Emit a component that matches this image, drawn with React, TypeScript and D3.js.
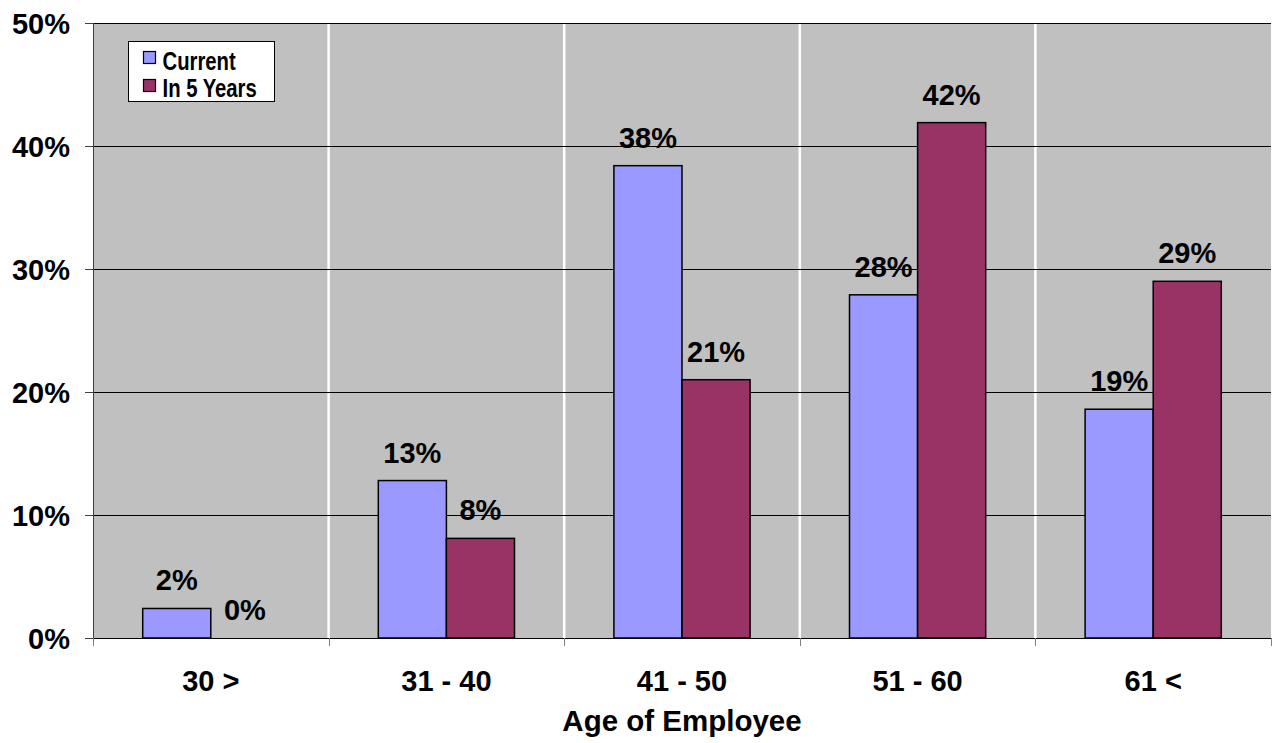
import React from "react";
import * as d3 from "d3";

const categories = ["30 >", "31 - 40", "41 - 50", "51 - 60", "61 <"];
const seriesNames = ["Current", "In 5 Years"];
const currentValues = [2.4, 12.8, 38.4, 27.9, 18.6];
const in5YearsValues = [0, 8.1, 21.0, 41.9, 29.0];
const yTicks = [0, 10, 20, 30, 40, 50];
const seriesColors = ["#9999FF", "#993366"];

const W = 1273;
const H = 743;
const left = 93;
const right = 1271;
const top = 23;
const bottom = 638;
const FONT = "'Liberation Sans', Arial, Helvetica, sans-serif";
const FS = 29;

export default function App() {
  const x = d3.scaleBand<string>().domain(categories).range([left, right]).paddingInner(0).paddingOuter(0);
  const xInner = d3
    .scaleBand<string>()
    .domain(seriesNames)
    .range([0, x.bandwidth()])
    .paddingInner(0)
    .paddingOuter(0.73);
  const y = d3.scaleLinear().domain([0, 50]).range([bottom, top]);

  const series = [currentValues, in5YearsValues];
  const boundaries = categories.map((c) => x(c) as number).concat([right]);

  return (
    <svg width={W} height={H} style={{ position: "absolute", left: 0, top: 0, background: "#fff" }}>
      <rect x={left} y={top} width={right - left} height={bottom - top} fill="#C0C0C0" />
      {boundaries.slice(1, -1).map((bx, i) => (
        <line key={"v" + i} x1={bx} x2={bx} y1={top} y2={bottom} stroke="#FFFFFF" strokeWidth={2.5} />
      ))}
      {yTicks.map((t) => (
        <line key={"g" + t} x1={left} x2={right} y1={Math.round(y(t)) + 0.5} y2={Math.round(y(t)) + 0.5} stroke="#000" strokeWidth={1} />
      ))}
      <line x1={left + 0.5} x2={left + 0.5} y1={top} y2={bottom + 8} stroke="#404040" strokeWidth={1} />
      {yTicks.map((t) => (
        <line key={"yt" + t} x1={85} x2={left} y1={Math.round(y(t)) + 0.5} y2={Math.round(y(t)) + 0.5} stroke="#404040" strokeWidth={1} />
      ))}
      {yTicks.map((t) => (
        <text key={"yl" + t} x={70} y={y(t) + 10.5} textAnchor="end" fontFamily={FONT} fontWeight="bold" fontSize={FS} fill="#000">
          {t + "%"}
        </text>
      ))}
      {boundaries.map((bx, i) => (
        <line key={"xt" + i} x1={Math.round(bx) + 0.5} x2={Math.round(bx) + 0.5} y1={bottom} y2={bottom + 8} stroke="#808080" strokeWidth={1} />
      ))}
      {categories.map((c, ci) =>
        seriesNames.map((s, si) => {
          const v = series[si][ci];
          const bx = (x(c) as number) + (xInner(s) as number);
          const by = y(v);
          return (
            <g key={c + s}>
              {v > 0 && (
                <rect x={bx} y={by} width={xInner.bandwidth()} height={bottom - by} fill={seriesColors[si]} stroke="#000" strokeWidth={1.5} />
              )}
              <text x={bx + xInner.bandwidth() / 2} y={by - 18} textAnchor="middle" fontFamily={FONT} fontWeight="bold" fontSize={FS} fill="#000">
                {Math.round(v) + "%"}
              </text>
            </g>
          );
        })
      )}
      {categories.map((c) => (
        <text
          key={"xl" + c}
          x={(x(c) as number) + x.bandwidth() / 2}
          y={691}
          textAnchor="middle"
          fontFamily={FONT}
          fontWeight="bold"
          fontSize={FS}
          fill="#000"
        >
          {c}
        </text>
      ))}
      <text x={(left + right) / 2} y={731} textAnchor="middle" fontFamily={FONT} fontWeight="bold" fontSize={29.5} fill="#000">
        Age of Employee
      </text>
      <rect x={128.5} y={41.5} width={146} height={60} fill="#fff" stroke="#000" strokeWidth={1} />
      {seriesNames.map((s, i) => (
        <g key={"lg" + s}>
          <rect x={143.5} y={51.5 + i * 28} width={12} height={12} fill={seriesColors[i]} stroke="#000" strokeWidth={1.2} />
          <text
            transform={`translate(162.5,${70 + i * 27}) scale(0.78,1)`}
            fontFamily={FONT}
            fontWeight="bold"
            fontSize={26}
            fill="#000"
          >
            {s}
          </text>
        </g>
      ))}
    </svg>
  );
}
